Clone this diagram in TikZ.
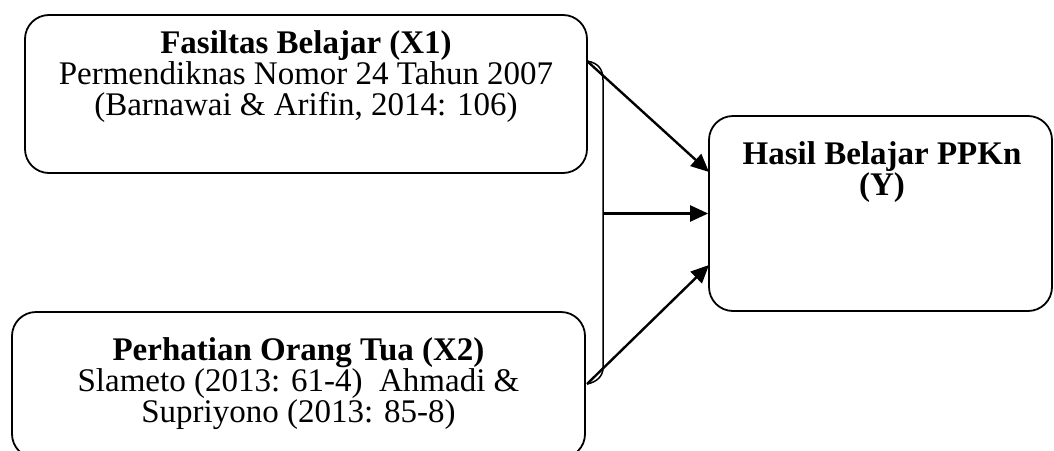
\documentclass[tikz,border=0pt]{standalone}
\usepackage{fontspec}
\setmainfont{Liberation Serif}
\usetikzlibrary{arrows.meta}
\begin{document}
\begin{tikzpicture}[x=1pt,y=-1pt,
  box/.style={draw, line width=1.8pt, rounded corners=24pt, inner sep=0pt},
  txt/.style={align=center, font=\fontsize{33}{31}\selectfont, inner sep=0pt},
  arr/.style={line width=2.4pt, -{Triangle[length=18pt,width=16pt]}},
  brk/.style={line width=1.5pt}]
\useasboundingbox (0,0) rectangle (1054,450);
% boxes
\node[box, minimum width=562pt, minimum height=158pt] (x1) at (306,94) {};
\node[box, minimum width=573pt, minimum height=146pt] (x2) at (298.5,385) {};
\node[box, minimum width=343pt, minimum height=195pt] (y) at (880.5,213.5) {};
% texts
\node[txt] (t1) at (306,76.5) {\textbf{Fasiltas Belajar (X1)}\\Permendiknas Nomor 24 Tahun 2007\\(Barnawai \& Arifin, 2014: 106)};
\node[txt] (t2) at (298.5,384) {\textbf{Perhatian Orang Tua (X2)}\\Slameto (2013: 61-4)\ \ Ahmadi \&\\Supriyono (2013: 85-8)};
\node[txt] (ty) at (882,172.5) {\textbf{Hasil Belajar PPKn}\\\textbf{(Y)}};
% connector points
\coordinate (b1) at (587,61);
\coordinate (b2) at (587,384);
\coordinate (bm) at (603,213.5);
\coordinate (ya) at (709,172);
\coordinate (yb) at (y.west);
\coordinate (yc) at (709,265);
% bracket
\draw[brk] (b1) .. controls (599,63) and (603,70) .. (603,80) -- (603,368) .. controls (603,376) and (597,382) .. (b2);
% arrows
\draw[arr] (b1) -- (ya);
\draw[arr] (bm) -- (yb);
\draw[arr] (b2) -- (yc);
\end{tikzpicture}
\end{document}
